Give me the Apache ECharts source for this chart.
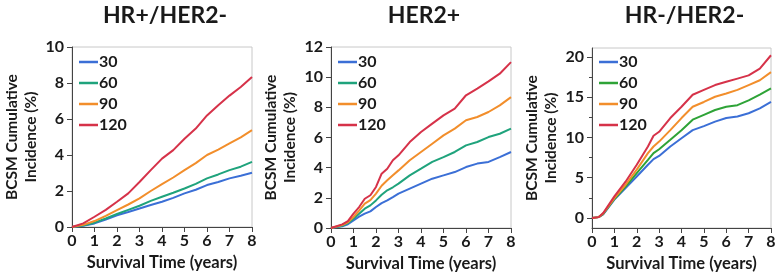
<!DOCTYPE html>
<html>
<head>
<meta charset="utf-8">
<script src="https://cdn.jsdelivr.net/npm/echarts@6/dist/echarts.min.js"></script>
<style>html,body{margin:0;padding:0;background:#fff;}#c{width:780px;height:279px;}</style>
</head>
<body>
<div id="c"></div>
<script>
// ---- Data ----
var panelTitles = ['HR+/HER2-', 'HER2+', 'HR-/HER2-'];
var seriesNames = ['30', '60', '90', '120'];
var xTicks = [0, 1, 2, 3, 4, 5, 6, 7, 8];

var years1 = [0, 0.5, 1, 1.5, 2, 2.5, 3, 3.5, 4, 4.5, 5, 5.5, 6, 6.5, 7, 7.5, 8];
var p1_30  = [0, 0.07, 0.2, 0.42, 0.65, 0.83, 1.03, 1.22, 1.4, 1.62, 1.87, 2.07, 2.33, 2.5, 2.7, 2.85, 3.01];
var p1_60  = [0, 0.08, 0.24, 0.47, 0.72, 0.95, 1.18, 1.45, 1.68, 1.9, 2.14, 2.4, 2.7, 2.92, 3.16, 3.35, 3.62];
var p1_90  = [0, 0.12, 0.33, 0.62, 0.94, 1.25, 1.59, 2.0, 2.38, 2.75, 3.16, 3.55, 4.0, 4.3, 4.64, 4.98, 5.38];
var p1_120 = [0, 0.2, 0.57, 0.95, 1.4, 1.87, 2.5, 3.16, 3.8, 4.27, 4.9, 5.47, 6.2, 6.77, 7.3, 7.78, 8.33];

var years2 = [0, 0.5, 0.75, 1, 1.25, 1.5, 1.75, 2, 2.25, 2.5, 2.75, 3, 3.5, 4, 4.5, 5, 5.5, 6, 6.5, 7, 7.5, 8];
var p2_30  = [0, 0.12, 0.25, 0.51, 0.75, 0.95, 1.1, 1.39, 1.65, 1.83, 2.05, 2.28, 2.61, 2.94, 3.27, 3.49, 3.71, 4.04, 4.27, 4.38, 4.7, 5.04];
var p2_60  = [0, 0.15, 0.32, 0.62, 0.95, 1.28, 1.5, 1.83, 2.2, 2.5, 2.7, 2.94, 3.49, 3.93, 4.38, 4.7, 5.04, 5.48, 5.7, 6.03, 6.25, 6.59];
var p2_90  = [0, 0.2, 0.38, 0.73, 1.15, 1.61, 1.85, 2.28, 2.8, 3.16, 3.5, 3.82, 4.49, 5.04, 5.59, 6.14, 6.59, 7.14, 7.36, 7.69, 8.13, 8.68];
var p2_120 = [0, 0.24, 0.45, 0.95, 1.39, 1.94, 2.17, 2.72, 3.6, 3.93, 4.49, 4.82, 5.7, 6.36, 6.92, 7.47, 7.91, 8.8, 9.24, 9.72, 10.23, 11.0];

var years3 = [0, 0.3, 0.5, 1, 1.5, 2, 2.5, 2.75, 3, 3.5, 4, 4.5, 5, 5.5, 6, 6.5, 7, 7.5, 8];
var p3_30  = [0, 0.1, 0.45, 2.27, 3.7, 5.15, 6.6, 7.3, 7.7, 8.87, 9.9, 10.9, 11.4, 11.96, 12.4, 12.6, 13.0, 13.6, 14.4];
var p3_60  = [0, 0.1, 0.5, 2.35, 3.9, 5.57, 7.2, 8.04, 8.53, 9.7, 10.9, 12.2, 12.8, 13.4, 13.8, 14.0, 14.6, 15.3, 16.1];
var p3_90  = [0, 0.1, 0.55, 2.47, 4.12, 6.0, 8.04, 8.87, 9.48, 10.9, 12.4, 13.8, 14.4, 15.05, 15.46, 15.9, 16.5, 17.1, 18.1];
var p3_120 = [0, 0.1, 0.6, 2.68, 4.5, 6.6, 8.87, 10.2, 10.7, 12.4, 13.8, 15.3, 15.9, 16.5, 16.9, 17.3, 17.7, 18.55, 20.2];

var y1Ticks = [0, 2, 4, 6, 8, 10];
var y2Ticks = [0, 2, 4, 6, 8, 10, 12];
var y3Ticks = [0, 5, 10, 15, 20];
var y3Minor = [2.5, 7.5, 12.5, 17.5];

// ---- Styling ----
var FONT = 'Lato, "Open Sans", sans-serif';
var colorsA = ['#3b6fd6', '#1fa37c', '#f28e2b', '#d63249'];
var colorsB = ['#3b6fd6', '#2ea337', '#f28e2b', '#d63249'];
var axisCol = '#444';
var txtCol = '#1a1a1a';

var grids = [
  {left: 72, top: 47, width: 180, height: 180},
  {left: 331, top: 47, width: 180, height: 181},
  {left: 592, top: 48, width: 179, height: 180}
];

function zip(xs, ys) { return xs.map(function (x, i) { return [x, ys[i]]; }); }

var panelData = [
  [years1, [p1_30, p1_60, p1_90, p1_120], colorsA],
  [years2, [p2_30, p2_60, p2_90, p2_120], colorsA],
  [years3, [p3_30, p3_60, p3_90, p3_120], colorsB]
];

var option = {
  backgroundColor: '#fff',
  animation: false,
  textStyle: {fontFamily: FONT},
  title: [], grid: [], xAxis: [], yAxis: [], legend: [], series: []
};

grids.forEach(function (g, i) {
  option.grid.push({left: g.left, top: g.top, width: g.width, height: g.height,
    containLabel: false, outerBoundsMode: 'none',
    show: true, borderColor: '#c8c8c8', borderWidth: 1, backgroundColor: 'transparent'});
  option.title.push({
    text: panelTitles[i], left: g.left + g.width / 2 - 2, top: -1, textAlign: 'center',
    textStyle: {fontFamily: FONT, fontWeight: 'bold', fontSize: 23, color: txtCol}
  });
  option.xAxis.push({
    type: 'value', gridIndex: i, min: 0, max: 8, interval: 1,
    axisLine: {show: true, onZero: false, lineStyle: {color: axisCol, width: 1}},
    axisTick: {show: true, inside: false, length: 5, lineStyle: {color: axisCol}},
    axisLabel: {show: true, margin: 6, fontFamily: FONT, fontWeight: 'bold', fontSize: 16, color: txtCol},
    splitLine: {show: false},
    name: 'Survival Time (years)', nameLocation: 'middle', nameGap: 17,
    nameTextStyle: {fontFamily: FONT, fontWeight: 'bold', fontSize: 16.5, color: txtCol}
  });
});

var yName = 'BCSM Cumulative\nIncidence (%)';
var yNameStyle = {fontFamily: FONT, fontWeight: 'bold', fontSize: 15.5, lineHeight: 19, color: txtCol};
var yLabelStyle = {show: true, margin: 8, fontFamily: FONT, fontWeight: 'bold', fontSize: 16, color: txtCol};

option.yAxis.push({
  type: 'value', gridIndex: 0, min: 0, max: 10, interval: 2,
  axisLine: {show: true, lineStyle: {color: axisCol}},
  axisTick: {show: true, length: 5, lineStyle: {color: axisCol}},
  axisLabel: yLabelStyle, splitLine: {show: false},
  name: yName, nameLocation: 'middle', nameGap: 32, nameTextStyle: yNameStyle
});
option.yAxis.push({
  type: 'value', gridIndex: 1, min: 0, max: 12, interval: 2,
  axisLine: {show: true, lineStyle: {color: axisCol}},
  axisTick: {show: true, length: 5, lineStyle: {color: axisCol}},
  axisLabel: yLabelStyle, splitLine: {show: false},
  name: yName, nameLocation: 'middle', nameGap: 32, nameTextStyle: yNameStyle
});
option.yAxis.push({
  type: 'value', gridIndex: 2, min: -1.25, max: 21.1,
  axisLine: {show: true, lineStyle: {color: axisCol}},
  axisTick: {show: true, length: 5, customValues: y3Ticks, lineStyle: {color: axisCol}},
  axisLabel: Object.assign({}, yLabelStyle, {customValues: y3Ticks}), splitLine: {show: false},
  name: yName, nameLocation: 'middle', nameGap: 32, nameTextStyle: yNameStyle
});
option.yAxis.push({
  type: 'value', gridIndex: 2, min: -1.25, max: 21.1, position: 'left',
  axisLine: {show: false},
  axisTick: {show: true, length: 3, customValues: y3Minor, lineStyle: {color: axisCol}},
  axisLabel: {show: false}, splitLine: {show: false}
});

panelData.forEach(function (pd, i) {
  var xs = pd[0], arr = pd[1], cols = pd[2];
  arr.forEach(function (vals, k) {
    option.series.push({
      type: 'line', name: seriesNames[k], xAxisIndex: i, yAxisIndex: i,
      data: zip(xs, vals), showSymbol: false, symbol: 'none', smooth: false,
      lineStyle: {color: cols[k], width: 2}, itemStyle: {color: cols[k]}, z: 2 + k
    });
  });
  option.legend.push({
    orient: 'vertical', left: grids[i].left + 7, top: 53, padding: 0,
    icon: 'rect', itemWidth: 19, itemHeight: 2.5, itemGap: 3,
    selectedMode: false,
    textStyle: {fontFamily: FONT, fontWeight: 'bold', fontSize: 16, lineHeight: 18, color: txtCol, padding: [0, 0, 0, -4]},
    data: seriesNames.map(function (n, k) { return {name: n, itemStyle: {color: cols[k]}}; })
  });
});

var chart = echarts.init(document.getElementById('c'), null, {renderer: 'canvas'});
chart.setOption(option);
</script>
</body>
</html>
